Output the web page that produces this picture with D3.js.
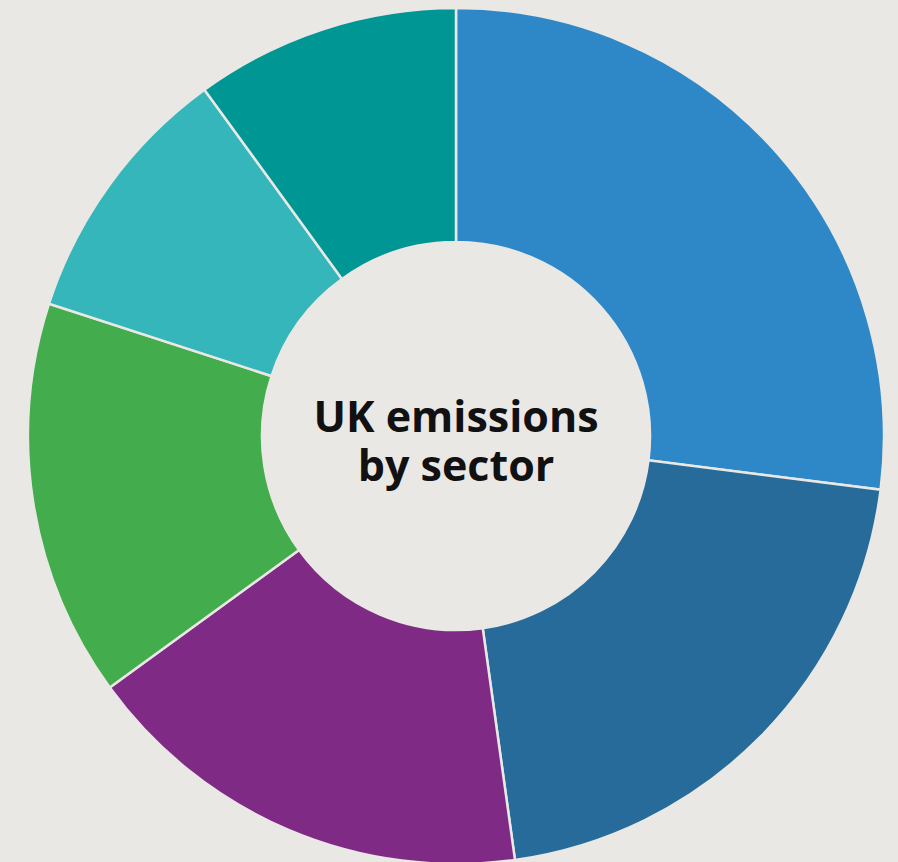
<!DOCTYPE html>
<html>
<head>
<meta charset="utf-8">
<script src="https://cdn.jsdelivr.net/npm/d3@7"></script>
<style>
  html, body { margin: 0; padding: 0; background: #eae8e5; }
  svg { display: block; }
</style>
</head>
<body>
<svg id="chart" width="898" height="862"></svg>
<script>
// UK emissions by sector (share of total, %)
const sectors = ["Transport", "Energy supply", "Business", "Residential", "Agriculture", "Other"];
const shares = [27, 20.8, 17.2, 15, 10, 10];
const colors = ["#2e88c8", "#266b9a", "#7f2b85", "#43ad4e", "#34b6bb", "#009694"];
const titleLines = ["UK emissions", "by sector"];

const svg = d3.select("#chart");
const cx = 456, cy = 436;
const outerR = 428, innerR = 194;

const data = sectors.map((s, i) => ({ sector: s, value: shares[i], color: colors[i] }));

const pie = d3.pie()
    .value(d => d.value)
    .sort(null);

const arc = d3.arc()
    .innerRadius(innerR)
    .outerRadius(outerR);

const g = svg.append("g")
    .attr("transform", `translate(${cx},${cy})`);

g.selectAll("path.slice")
    .data(pie(data))
    .enter().append("path")
    .attr("class", "slice")
    .attr("d", arc)
    .attr("fill", d => d.data.color)
    .attr("stroke", "#eae8e5")
    .attr("stroke-width", 2.5);

// centre label, one text per line
g.selectAll("text.centre")
    .data(titleLines)
    .enter().append("text")
    .attr("class", "centre")
    .attr("text-anchor", "middle")
    .attr("x", 0)
    .attr("y", (d, i) => -4 + i * 49)
    .style("font-family", "'Open Sans', sans-serif")
    .style("font-weight", 700)
    .style("font-size", "43px")
    .attr("fill", "#111")
    .text(d => d);
</script>
</body>
</html>
